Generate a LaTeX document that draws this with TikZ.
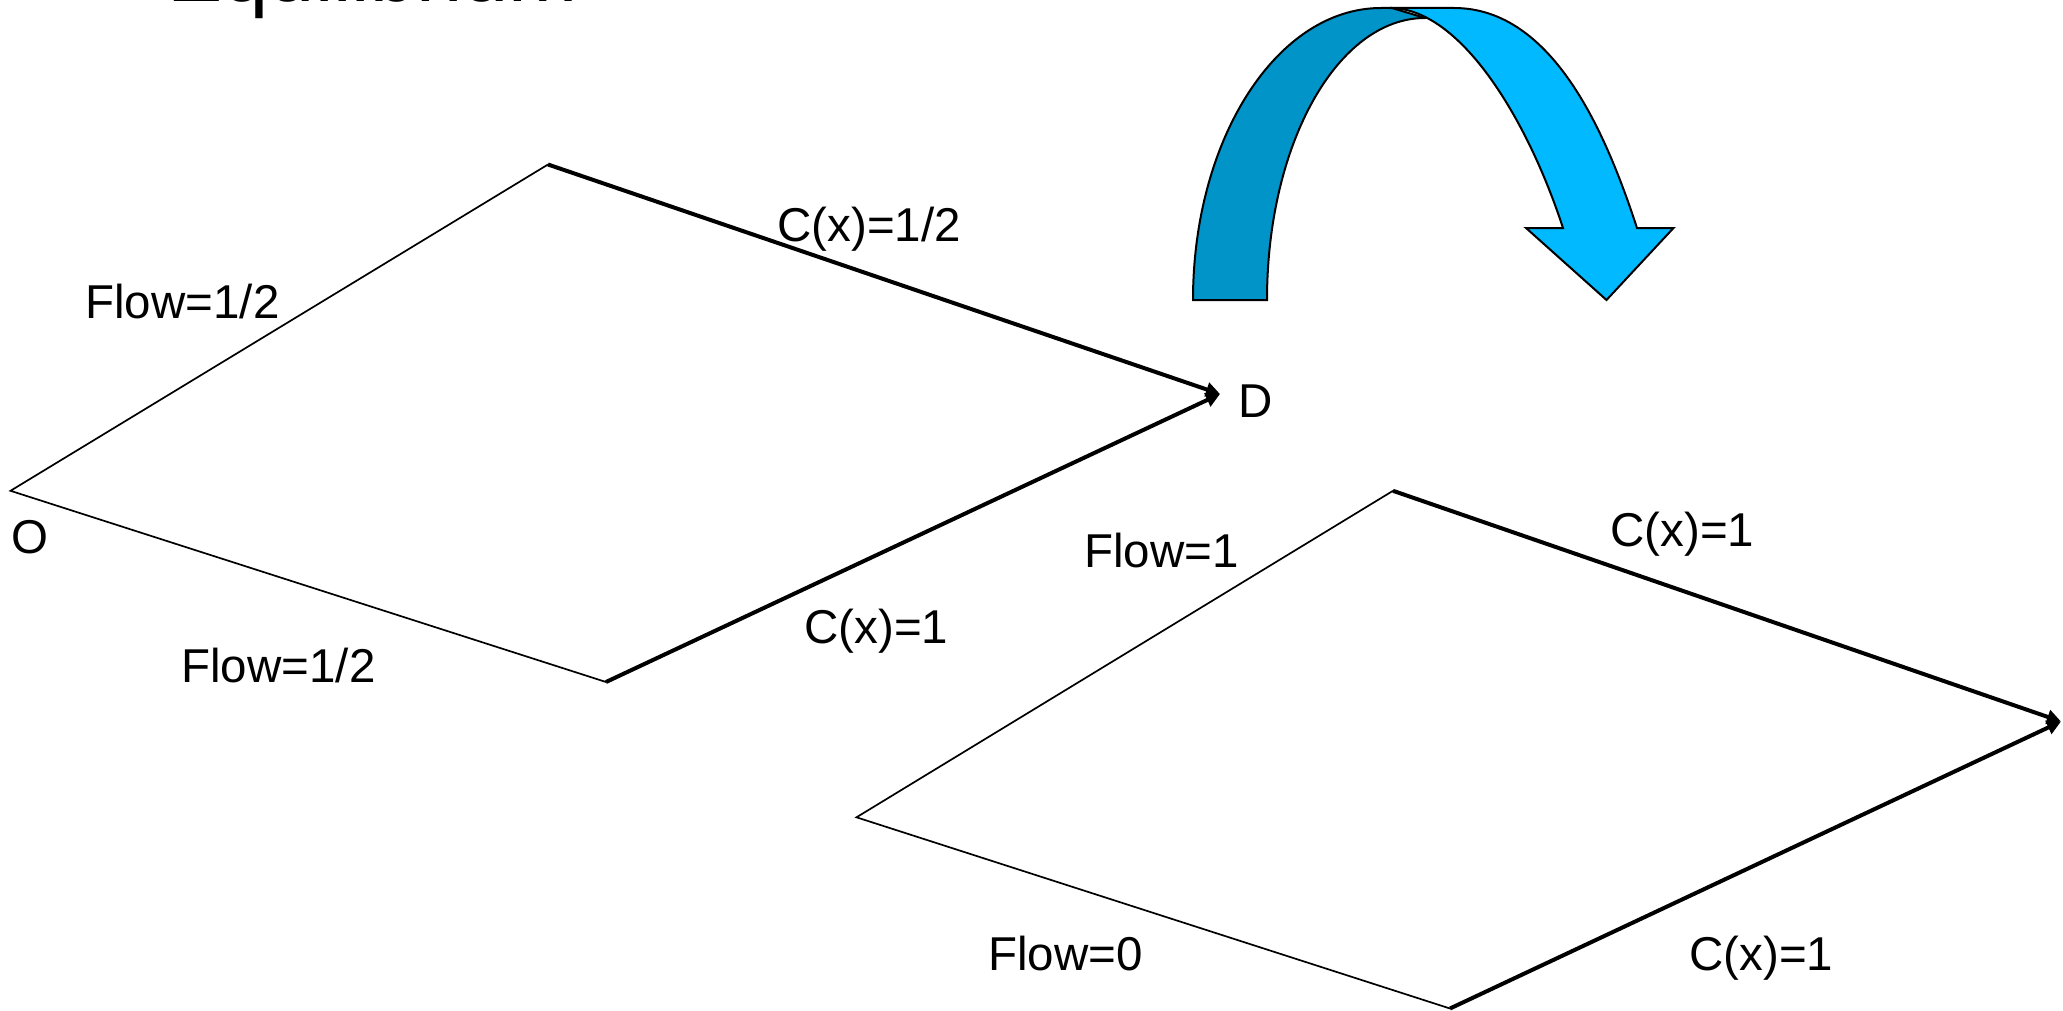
\documentclass[tikz,border=0pt]{standalone}
\usepackage{fontspec}
\setmainfont{Liberation Sans}
\usetikzlibrary{arrows.meta}
\definecolor{arrdark}{RGB}{0,148,200}
\definecolor{arrlight}{RGB}{0,185,255}
\begin{document}
\begin{tikzpicture}[x=0.5pt,y=-0.5pt,
  lbl/.style={font=\fontsize{23.75}{28}\selectfont, anchor=base west, inner sep=0pt},
  thinedge/.style={line width=0.85pt, line join=miter},
  thickedge/.style={line width=2pt, -{Triangle[length=7pt,width=7pt]}},
  bandline/.style={draw=black, line width=1pt, line join=miter}]
\useasboundingbox (0,0) rectangle (2063,1011);

% title (cut off at the top)
\node[font=\fontsize{41.5}{48}\selectfont, anchor=base west, inner sep=0pt] (title) at (167,2) {Equilibrium};

% left network
\coordinate (O1) at (10.5,490.8);
\coordinate (T1) at (548,164.5);
\coordinate (D1) at (1220,394);
\coordinate (B1) at (606,682);
\draw[thinedge] (B1) -- (O1) -- (T1);
\draw[thickedge] (T1) -- (D1);
\draw[thickedge] (B1) -- (D1);

% right network
\coordinate (O2) at (856.5,817.3);
\coordinate (T2) at (1393,490.8);
\coordinate (D2) at (2061,721.5);
\coordinate (B2) at (1450,1008.5);
\draw[thinedge] (B2) -- (O2) -- (T2);
\draw[thickedge] (T2) -- (D2);
\draw[thickedge] (B2) -- (D2);

% labels
\node[lbl] (f1) at (85,318) {Flow=1/2};
\node[lbl] (c1) at (777,242) {C(x)=1/2};
\node[lbl] (dl) at (1238,417) {D};
\node[lbl] (ol) at (11,553) {O};
\node[lbl] (f2) at (181,682) {Flow=1/2};
\node[lbl] (c2) at (804,643) {C(x)=1};
\node[lbl] (f3) at (1084,567) {Flow=1};
\node[lbl] (c3) at (1610,546) {C(x)=1};
\node[lbl] (f4) at (988,970) {Flow=0};
\node[lbl] (c4) at (1689,970) {C(x)=1};

% curved arrow
\path[bandline, fill=arrdark]
  (1193,300) .. controls (1193,139) and (1277,8) .. (1381,8)
  -- (1392,8) -- (1425,18)
  .. controls (1338,18) and (1267,143) .. (1267,300) -- cycle;
\path[bandline, fill=arrlight]
  (1390,8) -- (1454,8)
  .. controls (1554,8) and (1607,136.5) .. (1637,228)
  -- (1673.5,228) -- (1606.5,300) -- (1526,228) -- (1563,228)
  .. controls (1527,118) and (1460,8) .. (1390,8) -- cycle;
\end{tikzpicture}
\end{document}
